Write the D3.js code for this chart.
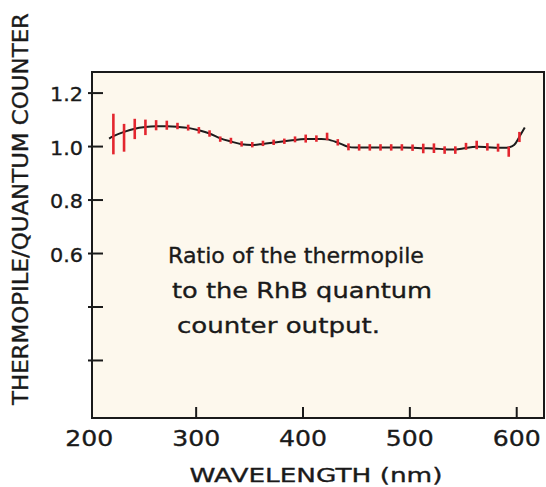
<!DOCTYPE html>
<html>
<head>
<meta charset="utf-8">
<script src="https://cdn.jsdelivr.net/npm/d3@7"></script>
<style>
  body { margin: 0; background: #ffffff; }
  text { font-family: "DejaVu Sans", sans-serif; fill: #1a1a1a; stroke: #1a1a1a; stroke-width: 0.35px; }
</style>
</head>
<body>
<script>
// measured points (wavelength in nm) with their error bars
var wavelengths = [223, 233, 243, 253, 263, 273, 283, 293, 303, 313, 323, 333, 343, 353, 363, 373, 383, 393, 403, 413,
                   423, 433, 443, 453, 463, 473, 483, 493, 503, 513, 523, 533, 543, 553, 563, 573, 583, 593, 603];
var ratios = [1.045, 1.031, 1.064, 1.070, 1.078, 1.078, 1.075, 1.069, 1.059, 1.047, 1.026, 1.020, 1.008, 1.005, 1.010, 1.014, 1.018, 1.025, 1.028, 1.028,
              1.036, 1.014, 0.997, 0.995, 0.995, 0.995, 0.995, 0.995, 0.994, 0.991, 0.992, 0.985, 0.985, 0.999, 1.004, 0.997, 0.994, 0.979, 1.034];
var errors = [0.076, 0.052, 0.038, 0.029, 0.019, 0.017, 0.012, 0.011, 0.012, 0.012, 0.010, 0.011, 0.010, 0.010, 0.010, 0.010, 0.010, 0.011, 0.015, 0.012,
              0.014, 0.012, 0.013, 0.012, 0.012, 0.012, 0.012, 0.012, 0.012, 0.018, 0.018, 0.014, 0.014, 0.013, 0.016, 0.014, 0.015, 0.019, 0.019];

// smooth line drawn through the data
var curveWl = [219, 223, 233, 243, 253, 263, 273, 283, 293, 303, 313, 323, 333, 343, 353, 363, 373, 383, 393, 403, 413, 423, 433, 443,
               453, 463, 473, 483, 493, 503, 513, 523, 533, 543, 553, 563, 573, 583, 593, 598, 603, 608];
var curveRatio = [1.028, 1.037, 1.053, 1.065, 1.071, 1.074, 1.074, 1.072, 1.068, 1.059, 1.047, 1.029, 1.017, 1.007, 1.004, 1.008, 1.013, 1.018, 1.023, 1.026, 1.026, 1.025, 1.013, 0.997,
                  0.995, 0.995, 0.995, 0.995, 0.995, 0.994, 0.992, 0.991, 0.988, 0.987, 0.993, 0.997, 0.996, 0.994, 0.995, 1.004, 1.035, 1.069];

var xTicks = [200, 300, 400, 500, 600];
var yTicks = [0.2, 0.4, 0.6, 0.8, 1.0, 1.2];
var yLabels = [0.6, 0.8, 1.0, 1.2];
var noteLines = ["Ratio of the thermopile", "to the RhB quantum", "counter output."];

var width = 546, height = 487;
// (plotTop, not top: window.top is taken)
var plotLeft = 92, plotRight = 544, plotTop = 72, plotBottom = 418;

var svg = d3.select("body").append("svg")
    .attr("width", width)
    .attr("height", height);

var x = d3.scaleLinear().domain([203, 626]).range([plotLeft, plotRight]);
var y = d3.scaleLinear().domain([-0.017, 1.277]).range([plotBottom, plotTop]);

// cream plot area
svg.append("rect")
    .attr("x", plotLeft).attr("y", plotTop)
    .attr("width", plotRight - plotLeft).attr("height", plotBottom - plotTop)
    .attr("fill", "#fdf8ed");

// x axis, ticks point inward
var xAxis = svg.append("g")
    .attr("transform", "translate(0," + plotBottom + ")")
    .call(d3.axisBottom(x).tickValues(xTicks).tickSize(-11).tickPadding(12).tickFormat(d3.format("d")));
xAxis.select(".domain").remove();
xAxis.selectAll(".tick line").attr("stroke", "#1a1a1a").attr("stroke-width", 2)
    .attr("display", function (d) { return d < 203 ? "none" : null; });
xAxis.selectAll(".tick text").attr("font-size", 22).attr("fill", "#1a1a1a")
    .attr("textLength", 48).attr("lengthAdjust", "spacingAndGlyphs");

// y axis, ticks cross the frame
var yAxis = svg.append("g")
    .attr("transform", "translate(" + plotLeft + ",0)")
    .call(d3.axisLeft(y).tickValues(yTicks).tickSize(-11).tickPadding(9)
        .tickFormat(function (d) { return yLabels.indexOf(d) >= 0 ? d3.format(".1f")(d) : ""; }));
yAxis.select(".domain").remove();
yAxis.selectAll(".tick line").attr("x1", -4).attr("stroke", "#1a1a1a").attr("stroke-width", 2);
yAxis.selectAll(".tick text").attr("font-size", 20).attr("dy", "0.42em").attr("fill", "#1a1a1a")
    .attr("textLength", 33).attr("lengthAdjust", "spacingAndGlyphs");

// frame
svg.append("rect")
    .attr("x", plotLeft).attr("y", plotTop)
    .attr("width", plotRight - plotLeft).attr("height", plotBottom - plotTop)
    .attr("fill", "none")
    .attr("stroke", "#1a1a1a")
    .attr("stroke-width", 2);

// fitted line
var line = d3.line()
    .x(function (d, i) { return x(curveWl[i]); })
    .y(function (d) { return y(d); })
    .curve(d3.curveCatmullRom);

svg.append("path")
    .datum(curveRatio)
    .attr("d", line)
    .attr("fill", "none")
    .attr("stroke", "#1c1c1c")
    .attr("stroke-width", 2);

// red error bars
svg.selectAll(".bar")
    .data(ratios)
    .enter()
    .append("line")
    .attr("class", "bar")
    .attr("x1", function (d, i) { return x(wavelengths[i]); })
    .attr("x2", function (d, i) { return x(wavelengths[i]); })
    .attr("y1", function (d, i) { return y(d + errors[i]); })
    .attr("y2", function (d, i) { return y(d - errors[i]); })
    .attr("stroke", "#e3262f")
    .attr("stroke-width", 2.6);

// note inside the plot
var noteX = [168, 172, 177];
var noteY = [263, 298, 333];
var noteW = [256, 260, 203];
svg.selectAll(".note")
    .data(noteLines)
    .enter()
    .append("text")
    .attr("class", "note")
    .attr("x", function (d, i) { return noteX[i]; })
    .attr("y", function (d, i) { return noteY[i]; })
    .attr("font-size", 22)
    .attr("textLength", function (d, i) { return noteW[i]; })
    .attr("lengthAdjust", "spacingAndGlyphs")
    .text(function (d) { return d; });

// axis titles
svg.append("text")
    .attr("x", 316)
    .attr("y", 482)
    .attr("text-anchor", "middle")
    .attr("font-size", 20)
    .attr("textLength", 253)
    .attr("lengthAdjust", "spacingAndGlyphs")
    .text("WAVELENGTH (nm)");

svg.append("text")
    .attr("transform", "translate(28,209) rotate(-90)")
    .attr("text-anchor", "middle")
    .attr("font-size", 21)
    .attr("textLength", 392)
    .attr("lengthAdjust", "spacingAndGlyphs")
    .text("THERMOPILE/QUANTUM COUNTER");
</script>
</body>
</html>
